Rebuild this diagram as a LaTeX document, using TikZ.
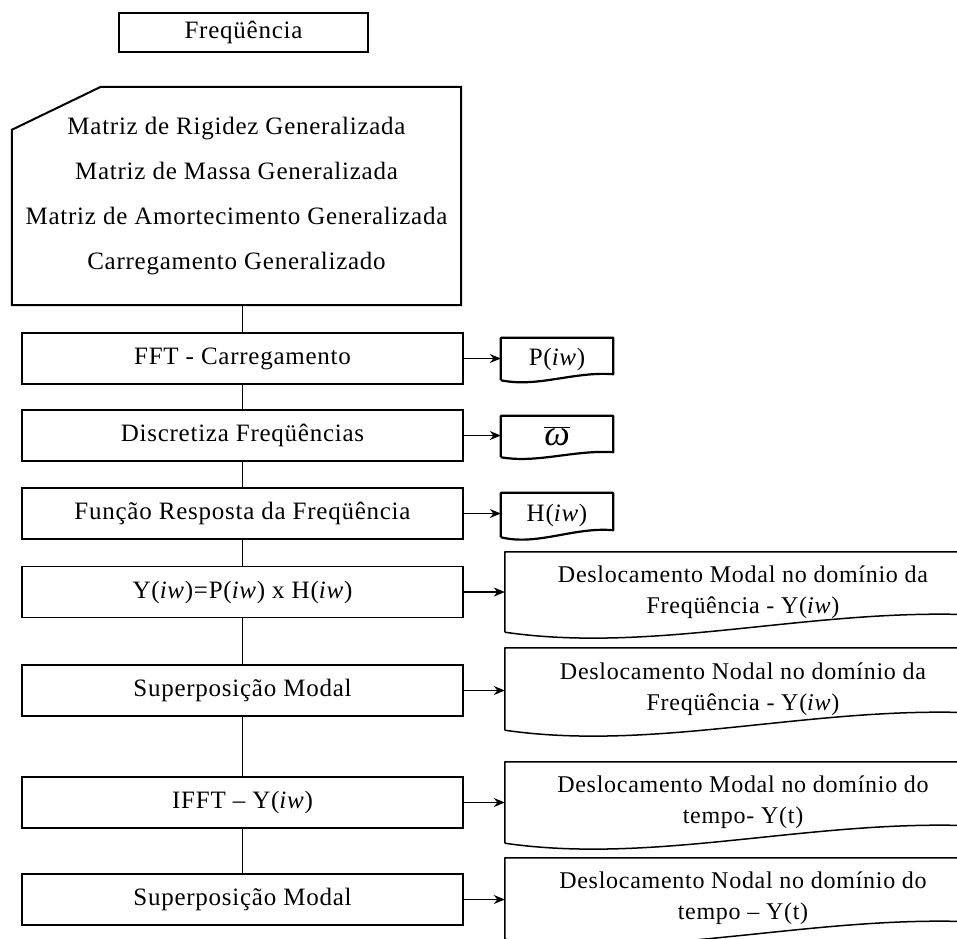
\documentclass[tikz,border=0pt]{standalone}
\usepackage{fontspec}
\setmainfont{Liberation Serif}[LetterSpace=3]
\usetikzlibrary{arrows.meta,calc}
\newcommand{\fsz}[2]{\fontsize{#1}{#2}\selectfont}
\newcommand{\docpath}[3]{% style, name, raise
  \draw[#1] (#2.south west) -- (#2.north west) -- (#2.north east) -- ($(#2.south east)+(0,-#3)$)
    .. controls ($(#2.south east)!0.35!(#2.south west)+(0,-1.5*#3)$) and ($(#2.south east)!0.68!(#2.south west)+(0,1.3*#3)$) .. (#2.south west);}
\begin{document}
\begin{tikzpicture}[x=1pt,y=-1pt,
  proc/.style={draw,line width=1.5pt,minimum width=441pt,minimum height=51pt,inner sep=0pt,font=\fsz{25}{30}},
  txt/.style={inner sep=0pt,align=center},
  smalldoc/.style={txt,minimum width=112pt,font=\fsz{25}{30}},
  bigdoc/.style={txt,minimum width=476pt,font=\fsz{24}{31}},
  smallline/.style={line width=2.2pt,line join=round},
  bigline/.style={line width=1.5pt,line join=round},
  cardline/.style={line width=2pt},
  conn/.style={line width=1.5pt},
  arr/.style={line width=1.3pt,-{Stealth[length=11pt,width=9pt]}}]
\useasboundingbox (0,0) rectangle (957,938);
\clip (0,0) rectangle (957,938);
\fill[white] (0,0) rectangle (957,938);

\node[proc,minimum width=249pt,minimum height=39pt] (freq) at (243.5,32.5) {Freqüência};

\node[txt,minimum width=449pt,minimum height=218pt,font=\fsz{25}{45}] (card) at (236.5,196)
  {Matriz de Rigidez Generalizada\\Matriz de Massa Generalizada\\Matriz de Amortecimento Generalizada\\Carregamento Generalizado};
\draw[cardline] ($(card.north west)+(0,43)$) -- ($(card.north west)+(89,0)$) -- (card.north east) -- (card.south east) -- (card.south west) -- cycle;

\node[proc] (p1) at (242.5,358.5) {FFT - Carregamento};
\node[proc] (p2) at (242.5,435.5) {Discretiza Freqüências};
\node[proc] (p3) at (242.5,513.5) {Função Resposta da Freqüência};
\node[proc] (p4) at (242.5,592) {Y(\textit{iw})=P(\textit{iw}) x H(\textit{iw})};
\node[proc] (p5) at (242.5,690.5) {Superposição Modal};
\node[proc] (p6) at (242.5,802.5) {IFFT – Y(\textit{iw})};
\node[proc] (p7) at (242.5,899.5) {Superposição Modal};

\node[smalldoc,minimum height=42pt] (d1) at (557,359) {P(\textit{iw})};
\node[smalldoc,minimum height=41pt] (d2) at (557,436.5) {$\overline{\hbox{\fsz{36}{36}\itshape ω}}$};
\node[smalldoc,minimum height=44pt] (d3) at (557,515) {H(\textit{iw})};
\docpath{smallline}{d1}{6}
\docpath{smallline}{d2}{5}
\docpath{smallline}{d3}{7}

\node[bigdoc,minimum height=80pt] (d4) at (743,592) {Deslocamento Modal no domínio da\\Freqüência - Y(\textit{iw})};
\node[bigdoc,minimum height=82pt] (d5) at (743,689) {Deslocamento Nodal no domínio da\\Freqüência - Y(\textit{iw})};
\node[bigdoc,minimum height=81pt] (d6) at (743,802.5) {Deslocamento Modal no domínio do\\tempo- Y(t)};
\node[bigdoc,minimum height=81pt] (d7) at (743,898.5) {Deslocamento Nodal no domínio do\\tempo – Y(t)};
\docpath{bigline}{d4}{17}
\docpath{bigline}{d5}{17}
\docpath{bigline}{d6}{17}
\docpath{bigline}{d7}{17}

\draw[conn] (card.south -| p1.north) -- (p1.north);
\draw[conn] (p1) -- (p2);
\draw[conn] (p2) -- (p3);
\draw[conn] (p3) -- (p4);
\draw[conn] (p4) -- (p5);
\draw[conn] (p5) -- (p6);
\draw[conn] (p6) -- (p7);

\draw[arr] (p1.east) -- (p1.east -| d1.west);
\draw[arr] (p2.east) -- (p2.east -| d2.west);
\draw[arr] (p3.east) -- (p3.east -| d3.west);
\draw[arr] (p4.east) -- (p4.east -| d4.west);
\draw[arr] (p5.east) -- (p5.east -| d5.west);
\draw[arr] (p6.east) -- (p6.east -| d6.west);
\draw[arr] (p7.east) -- (p7.east -| d7.west);
\end{tikzpicture}
\end{document}
